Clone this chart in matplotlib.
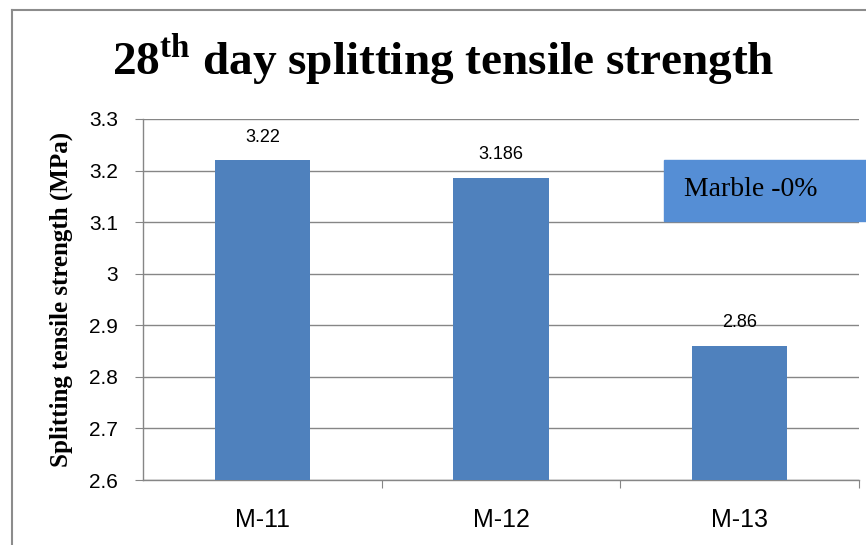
import matplotlib.pyplot as plt
from matplotlib.lines import Line2D
from matplotlib.patches import Rectangle

# data
mixes = ['M-11', 'M-12', 'M-13']
strength = [3.22, 3.186, 2.86]
value_labels = ['3.22', '3.186', '2.86']
yticks = [2.6, 2.7, 2.8, 2.9, 3.0, 3.1, 3.2, 3.3]
ytick_labels = ['2.6', '2.7', '2.8', '2.9', '3', '3.1', '3.2', '3.3']

plt.rcParams['mathtext.fontset'] = 'custom'
plt.rcParams['mathtext.bf'] = 'Liberation Serif:bold'
plt.rcParams['mathtext.rm'] = 'Liberation Serif:bold'

fig = plt.figure(figsize=(8.66, 5.45), dpi=100)
ax = fig.add_axes([143 / 866, 1 - 480 / 545, 716 / 866, 361 / 545])

grey = '#868686'
x = range(len(mixes))
ax.bar(x, strength, width=0.4, color='#4F81BD', zorder=3)

for i, (v, lab) in enumerate(zip(strength, value_labels)):
    ax.text(i, v + 0.028, lab, ha='center', va='bottom', fontsize=13,
            family='Liberation Sans')

ax.set_xlim(-0.5, 2.5)
ax.set_ylim(2.6, 3.3)
ax.set_yticks(yticks)
ax.set_yticklabels(ytick_labels, family='Liberation Sans', fontsize=15)
ax.set_xticks([0.5, 1.5, 2.5])
ax.set_xticklabels([])
ax.set_xticks(list(x), minor=True)
ax.set_xticklabels(mixes, minor=True, family='Liberation Sans', fontsize=18)
ax.tick_params(axis='x', which='major', length=6, color=grey, direction='out')
ax.tick_params(axis='x', which='minor', length=0, pad=20)
ax.tick_params(axis='y', length=6, color=grey, direction='out', pad=12)

ax.grid(axis='y', color=grey, linewidth=1, zorder=0)
for s in ['top', 'right']:
    ax.spines[s].set_visible(False)
for s in ['left', 'bottom']:
    ax.spines[s].set_color(grey)
    ax.spines[s].set_linewidth(1)

fig.text(61 / 866, 1 - 299 / 545, 'Splitting tensile strength (MPa)',
         rotation=90, ha='center', va='center', family='Liberation Serif',
         fontweight='bold', fontsize=18)

fig.text(443 / 866, 1 - 75 / 545, r'28$^{\mathbf{th}}$ day splitting tensile strength',
         ha='center', va='baseline', family='Liberation Serif',
         fontweight='bold', fontsize=34)

# legend box
fig.patches.append(Rectangle((664 / 866, 1 - 221 / 545), 210 / 866, 61 / 545,
                             transform=fig.transFigure, color='#558ED5',
                             zorder=5))
fig.text(684 / 866, 1 - 190 / 545, 'Marble -0%', family='Liberation Serif',
         fontsize=20, va='center', ha='left', zorder=6)

# outer chart border
fig.lines.append(Line2D([12 / 866, 12 / 866], [0, 1 - 10 / 545],
                        transform=fig.transFigure, color='#8c8c8c', lw=1.5))
fig.lines.append(Line2D([12 / 866, 1], [1 - 10 / 545, 1 - 10 / 545],
                        transform=fig.transFigure, color='#8c8c8c', lw=1.5))

fig.savefig('out.png', dpi=100)
